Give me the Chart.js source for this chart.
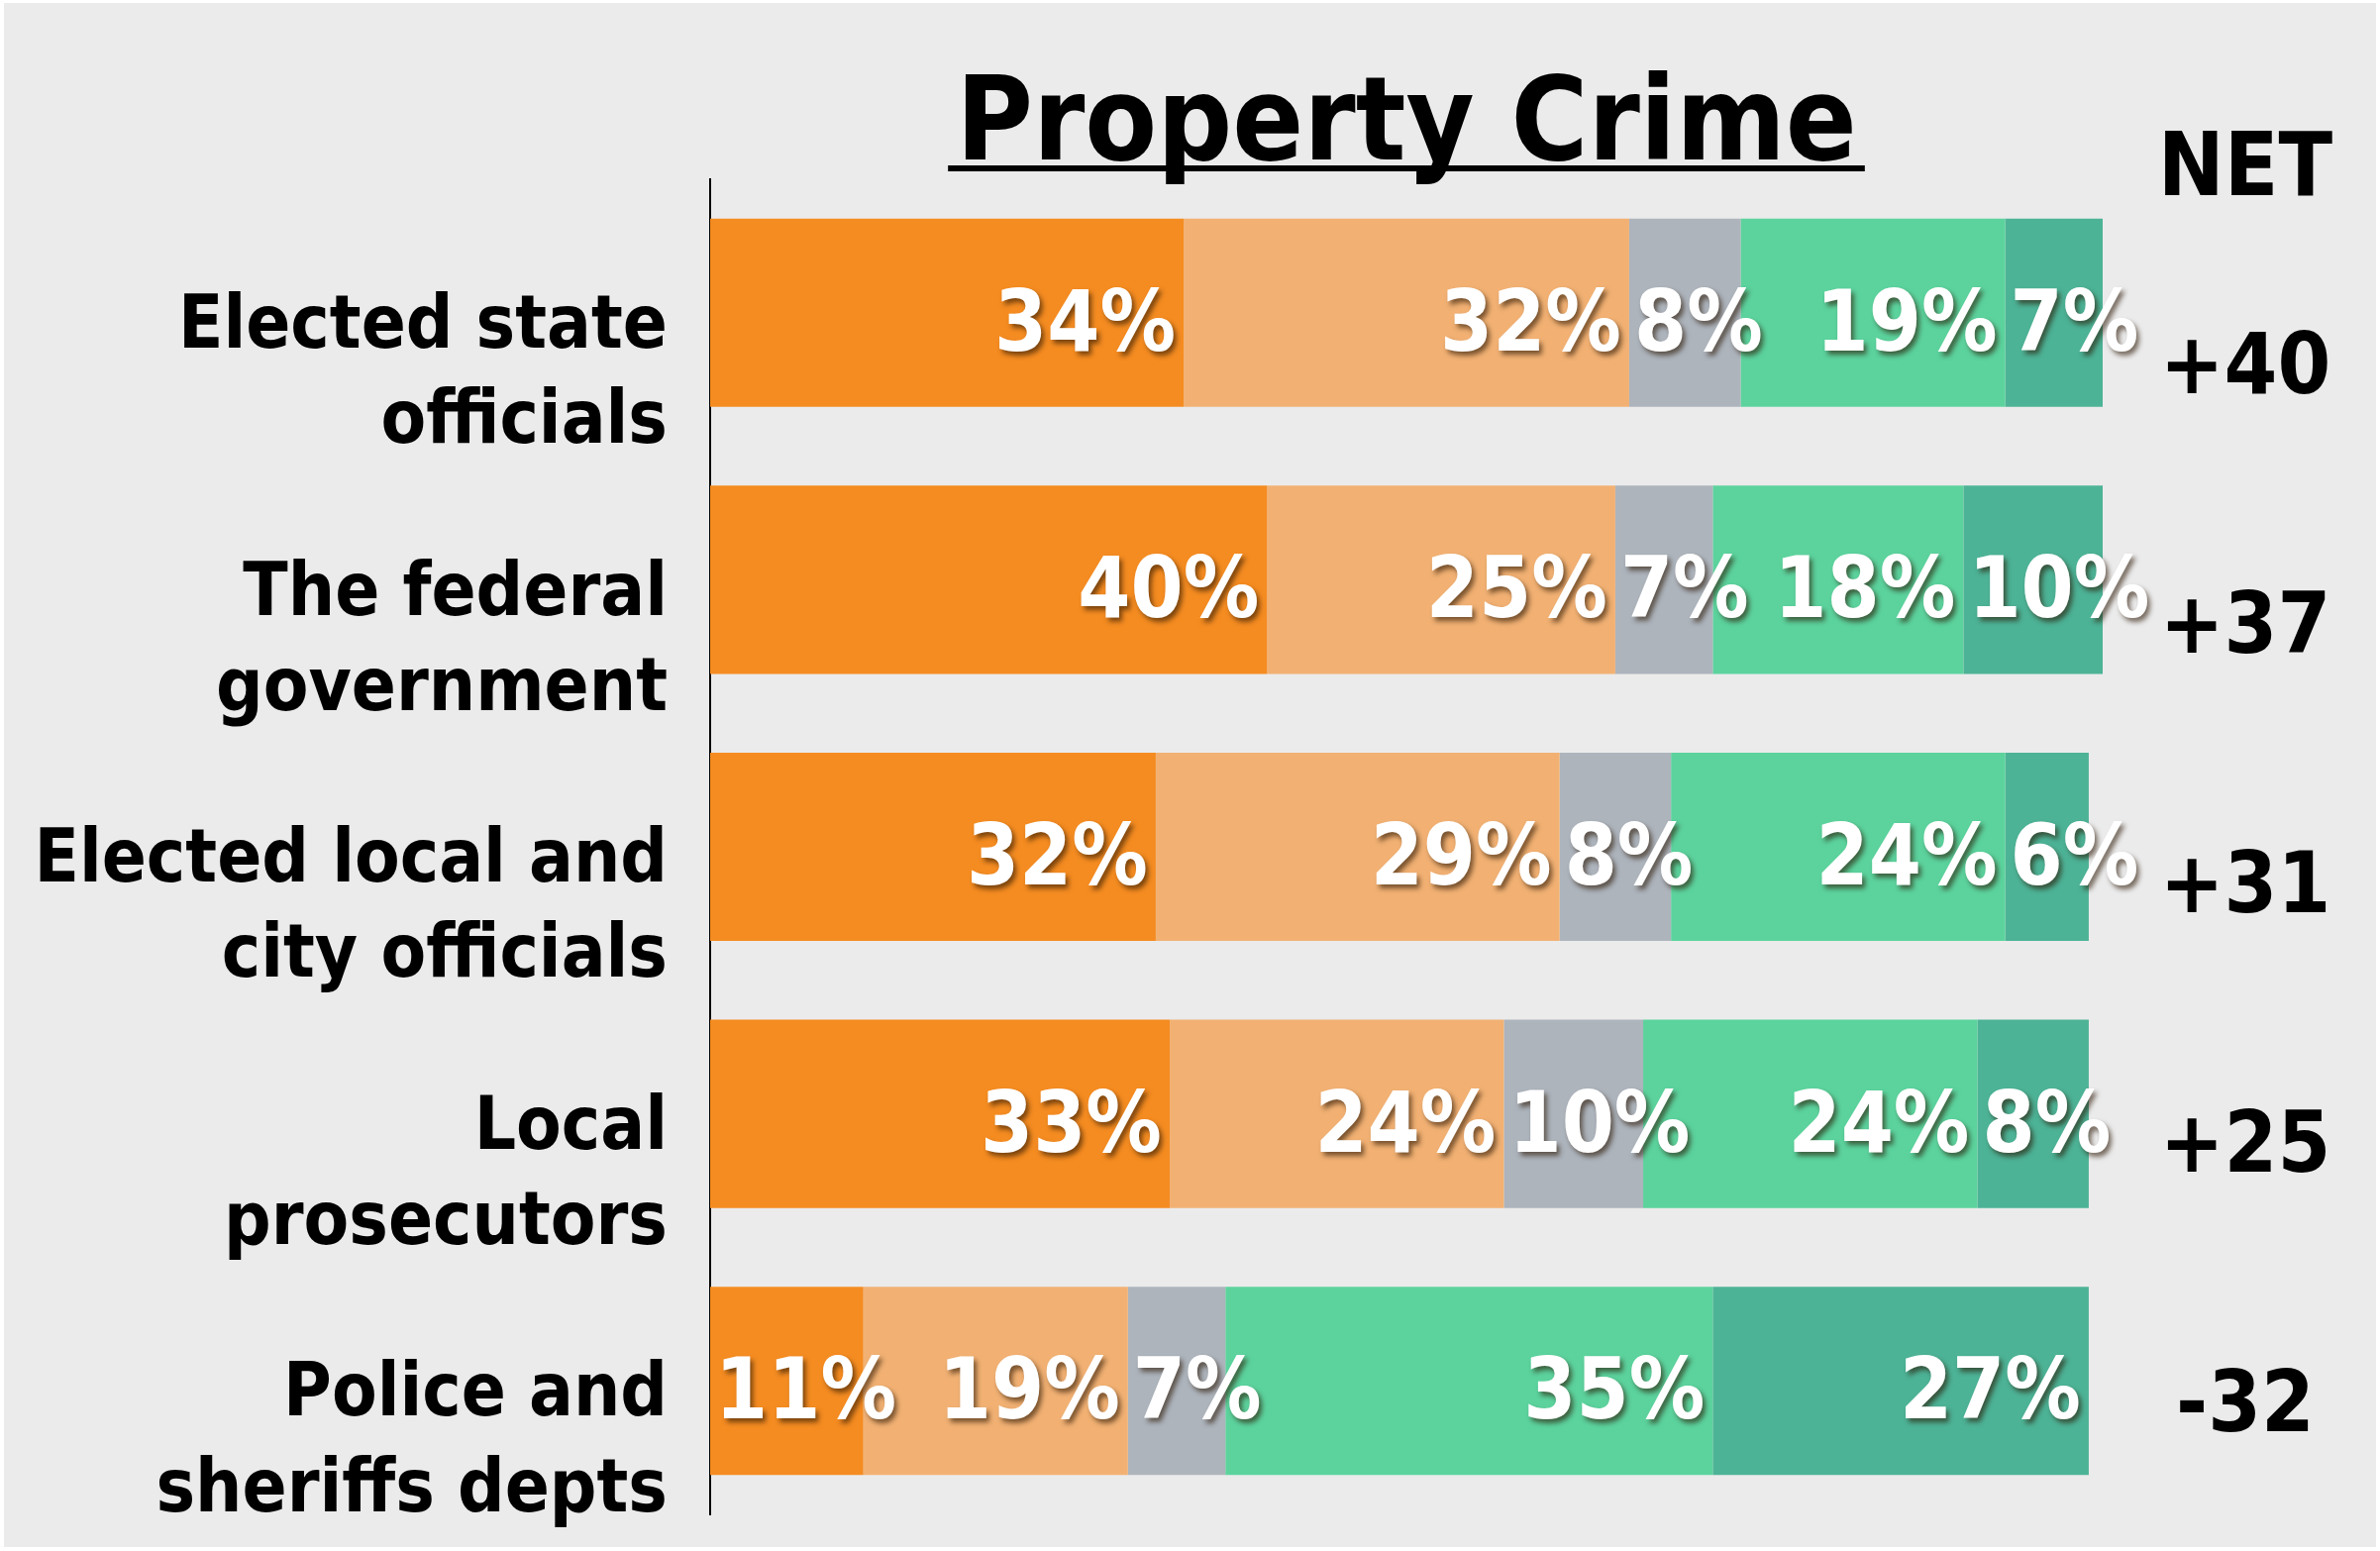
<!DOCTYPE html>
<html>
<head>
<meta charset="utf-8">
<script src="https://cdn.jsdelivr.net/npm/chart.js@4.4.1/dist/chart.umd.min.js"></script>
<style>
  html, body { margin: 0; padding: 0; background: #ffffff; }
  #wrap { width: 2403px; height: 1566px; position: relative; }
</style>
</head>
<body>
<div id="wrap"><canvas id="crimeChart" width="2403" height="1566"></canvas></div>
<script>
// Property crime: who should be responsible (stacked shares, %)
const categories = [
  ['Elected state', 'officials'],
  ['The federal', 'government'],
  ['Elected local and', 'city officials'],
  ['Local', 'prosecutors'],
  ['Police and', 'sheriffs depts']
];
const seriesNames = ['Much more', 'Somewhat more', 'Neutral', 'Somewhat less', 'Much less'];
const muchMore     = [34, 40, 32, 33, 11];
const somewhatMore = [32, 25, 29, 24, 19];
const neutral      = [8, 7, 8, 10, 7];
const somewhatLess = [19, 18, 24, 24, 35];
const muchLess     = [7, 10, 6, 8, 27];
const netLabels = ['+40', '+37', '+31', '+25', '-32'];
const xTicks = [0, 100];

const colors = ['#F58C21', '#F2B173', '#ADB4BC', '#5CD39D', '#4DB396'];
const FONT = "'DejaVu Sans Condensed', 'DejaVu Sans', sans-serif";

const seriesValues = [muchMore, somewhatMore, neutral, somewhatLess, muchLess];

// background, title, NET column and bar value labels
const decorPlugin = {
  id: 'decor',
  beforeDraw(chart) {
    const { ctx, width, height } = chart;
    ctx.save();
    ctx.fillStyle = '#ffffff';
    ctx.fillRect(0, 0, width, height);
    ctx.fillStyle = '#EBEBEB';
    ctx.fillRect(4, 3, width - 8, height - 7);
    ctx.restore();
  },
  afterDraw(chart) {
    const { ctx } = chart;
    const yScale = chart.scales.y;
    ctx.save();

    // title with underline
    ctx.fillStyle = '#000';
    ctx.font = `bold 118px ${FONT}`;
    ctx.textAlign = 'center';
    ctx.textBaseline = 'alphabetic';
    const titleX = 1420;
    ctx.fillText('Property Crime', titleX, 161);
    const tw = ctx.measureText('Property Crime').width;
    ctx.fillRect(titleX - tw / 2 - 8, 167, tw + 16, 6);

    // NET header and values
    ctx.font = `bold 89px ${FONT}`;
    ctx.fillText('NET', 2267, 197);
    ctx.font = `bold 86px ${FONT}`;
    netLabels.forEach((txt, i) => {
      const cy = yScale.getPixelForValue(i) + 48 - i * 7.5;
      ctx.fillText(txt, 2267, cy + 33);
    });

    // value labels inside the segments
    ctx.font = `bold 85px ${FONT}`;
    ctx.textAlign = 'left';
    ctx.shadowColor = 'rgba(40, 20, 0, 0.6)';
    ctx.shadowOffsetX = 3;
    ctx.shadowOffsetY = 4;
    ctx.shadowBlur = 5;
    ctx.fillStyle = '#ffffff';
    chart.data.datasets.forEach((ds, di) => {
      const meta = chart.getDatasetMeta(di);
      meta.data.forEach((bar, i) => {
        const txt = ds.data[i] + '%';
        const w = ctx.measureText(txt).width;
        const start = Math.min(bar.base, bar.x);
        const end = Math.max(bar.base, bar.x);
        const left = Math.max(end - 8 - w, start + 5);
        ctx.fillText(txt, left, bar.y + 38);
      });
    });
    ctx.restore();
  }
};

const ctx = document.getElementById('crimeChart');
new Chart(ctx, {
  type: 'bar',
  data: {
    labels: categories,
    datasets: seriesNames.map((name, i) => ({
      label: name,
      data: seriesValues[i],
      backgroundColor: colors[i],
      borderWidth: 0,
      barPercentage: 0.705,
      categoryPercentage: 1
    }))
  },
  options: {
    indexAxis: 'y',
    responsive: false,
    animation: false,
    devicePixelRatio: 1,
    layout: { padding: { top: 181, bottom: 37, left: 0, right: 280 } },
    plugins: {
      legend: { display: false },
      title: { display: false },
      tooltip: { enabled: false }
    },
    scales: {
      x: {
        stacked: true,
        display: false,
        min: xTicks[0],
        max: xTicks[1]
      },
      y: {
        stacked: true,
        grid: { display: false, drawTicks: false },
        border: { display: true, color: '#000', width: 2 },
        ticks: {
          autoSkip: false,
          color: '#000',
          padding: 43,
          labelOffset: 64,
          font: { family: FONT, size: 74, weight: 'bold', lineHeight: 1.3 }
        },
        afterFit(scale) {
          scale.width = 717;
          scale.paddingTop = 0;
          scale.paddingBottom = 0;
        }
      }
    }
  },
  plugins: [decorPlugin]
});
</script>
</body>
</html>
